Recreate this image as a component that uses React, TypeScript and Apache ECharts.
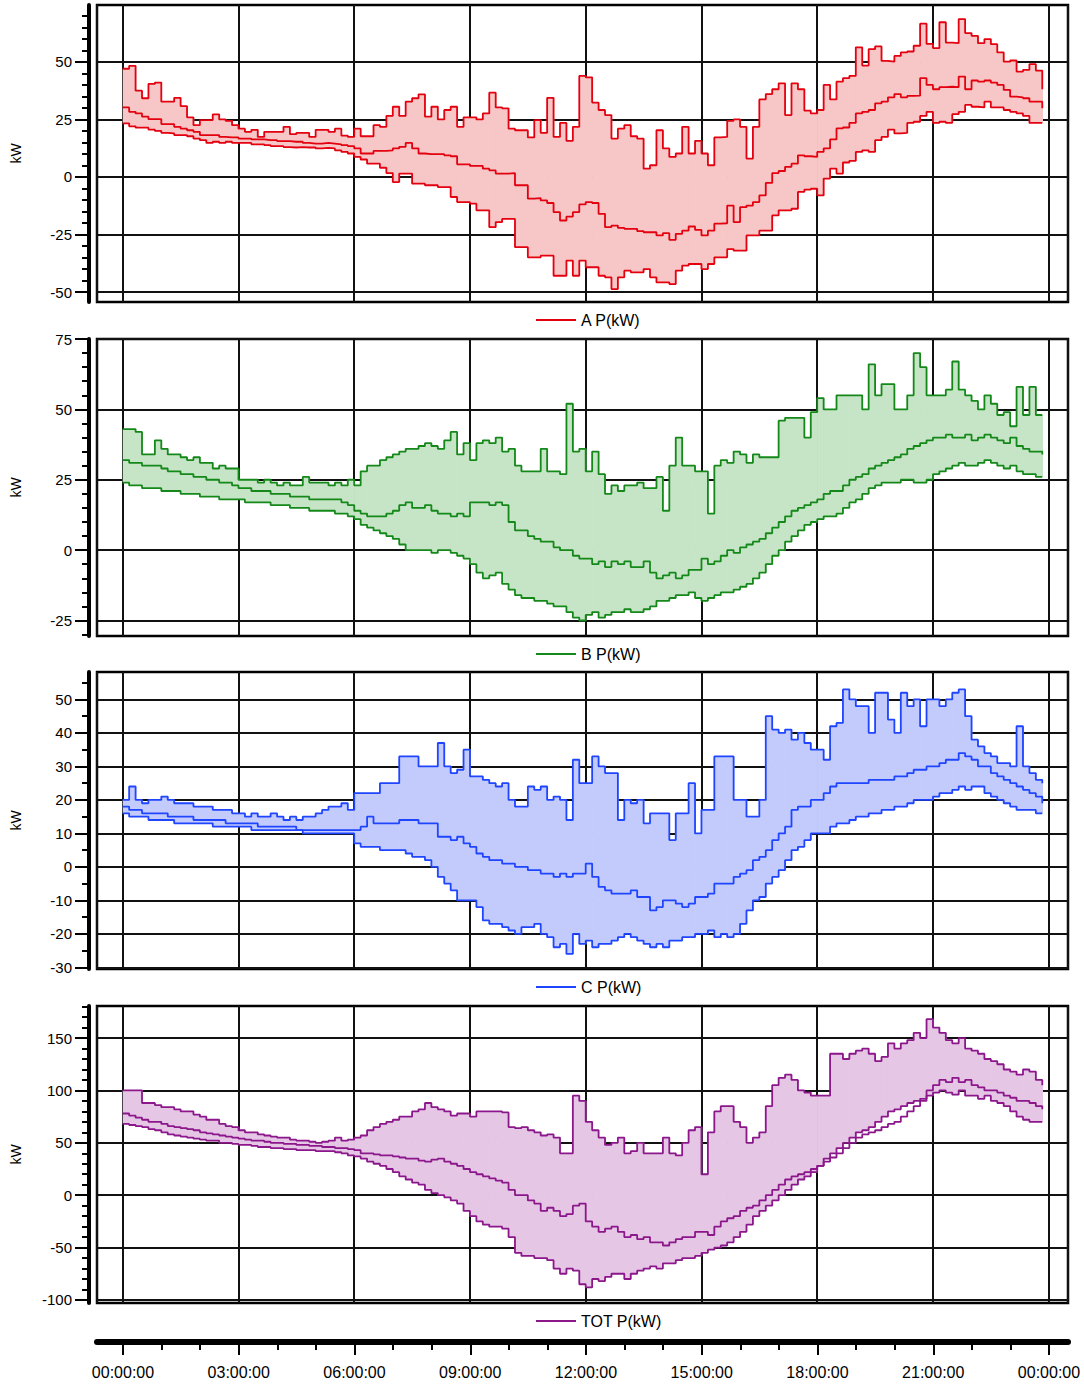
import React, { useEffect, useRef } from "react";
import * as echarts from "echarts";

// 10-minute steps, index i -> minute i*10
const STEP_MIN = 10;

const A_MAX = [47, 48.3, 37.5, 34.2, 40.4, 41, 32.7, 32.7, 34.4, 30.8,
  25.9, 22.5, 24.7, 24.7, 27.2, 25, 24.4, 22.5, 21, 19.6,
  20.5, 17.4, 19.6, 19.6, 19.6, 21.8, 18.6, 19.2, 19.2, 17.4,
  20.5, 20.5, 19.6, 21, 18, 17.4, 21, 17.7, 17.7, 22.5,
  21.8, 26.5, 30.5, 26.5, 32.7, 34.2, 35.9, 26.2, 30.5, 25,
  29.1, 30.5, 21.8, 25.9, 25.9, 25, 27.6, 36.6, 30.2, 29.8,
  21, 20.3, 20.3, 17.2, 24.7, 19.2, 34.4, 17.4, 23.5, 15.7,
  21.8, 43.9, 43.3, 32.3, 29.1, 26.9, 16.7, 21, 22.5, 17.7,
  16.7, 3.6, 5.1, 20.3, 12.4, 8.7, 10.2, 21.8, 10.2, 15.7,
  10.2, 5.1, 17.2, 17.4, 24.4, 25, 21.8, 8, 21.8, 33.7,
  36, 38.1, 40.7, 26.9, 40.7, 38.1, 28.8, 27.6, 29.1, 40,
  33.7, 41.4, 42.9, 43.9, 56.3, 48.4, 55.5, 56.7, 50.4, 50.1,
  52.6, 54.1, 54.5, 57, 66.6, 57.8, 56, 67.2, 58.4, 58.1,
  68.6, 62.5, 61.3, 58.1, 59.9, 57.7, 54.1, 50.1, 50.6, 45.8,
  46.5, 49, 46.2, 38.1];
const A_AVG = [30.2, 28.3, 27.6, 26.2, 25.1, 25.1, 23, 23, 21.8, 21,
  20.3, 19.6, 18.2, 18.2, 18.2, 17.4, 17.2, 17.2, 16.7, 16.7,
  16.3, 16.3, 16, 16, 15.6, 15.6, 15.3, 15.3, 14.8, 14.5,
  14.5, 14.8, 14.5, 14.2, 13.8, 13.4, 12.4, 10.2, 10.2, 11.3,
  11.3, 11.6, 12.4, 13.1, 14.8, 12.4, 10.2, 9.9, 9.9, 9.9,
  9.4, 9, 5.5, 5.5, 4.8, 4.8, 3.6, 2.9, 1.5, 1.5,
  1.7, -3.6, -3.6, -9.4, -9.2, -10.2, -11.3, -15.3, -18.9, -17.2,
  -15.3, -11.9, -10.9, -11.3, -16, -21.8, -21.1, -22.1, -22.5, -22.5,
  -23.5, -24, -24, -25.4, -24.4, -27.3, -24.7, -23.3, -21.5, -23,
  -25.4, -23.3, -20.3, -20.1, -12.4, -19.6, -13.1, -12.4, -10.9, -8,
  -2.6, 1.7, 2.6, 4.4, 5.8, 9.4, 9, 8.7, 10.9, 12.4,
  16.3, 21.1, 21.5, 23.5, 27.6, 28.3, 29.1, 32, 32.7, 34.6,
  36, 34.6, 35.2, 35.3, 42.9, 40, 38.1, 39, 39.2, 39,
  43.6, 38.1, 41.9, 41.4, 41.9, 41, 40, 37.8, 34.9, 34.6,
  34.2, 32.7, 32.7, 29.8];
const A_MIN = [23.3, 22, 21.4, 21.4, 20.6, 20, 19.2, 18.9, 18.2, 18.2,
  17.7, 16.7, 16, 14.8, 15.3, 14.8, 15.3, 14.8, 14.8, 14.8,
  14.2, 14.2, 13.8, 13.4, 13.4, 13, 12.8, 13, 12.8, 12.8,
  12.4, 12.6, 12.4, 11.6, 10.9, 10.2, 8.7, 7.6, 5.8, 5.8,
  4, 1.7, -2.2, 1.5, 1.5, -2.9, -2.9, -3.6, -3.6, -4.4,
  -4.4, -8.7, -10.9, -10.9, -11.6, -14.5, -14.5, -21.8, -19.6, -18.2,
  -18.2, -30.5, -30.5, -34.9, -34.9, -34.2, -34.2, -42.9, -42.9, -36.3,
  -42.9, -36.3, -39.2, -39.2, -42.9, -43.6, -48.7, -43.6, -40.7, -41.4,
  -41.4, -40, -43.6, -45.8, -45.8, -46.5, -40.7, -38.5, -37.8, -37.8,
  -40, -37.8, -34.9, -34.9, -31.3, -32, -32, -25.4, -25.4, -23.3,
  -23.3, -16.7, -14.5, -14.5, -13.8, -6.5, -5.5, -5.1, -8, -0.7,
  3.6, 1.5, 6.3, 7, 10.9, 11.6, 10.9, 16, 17.4, 20.6,
  18.9, 19.2, 23.5, 24, 26.5, 28.3, 23.5, 24, 23.5, 27.3,
  28.3, 31.3, 30.5, 30.2, 32.7, 30.2, 30.2, 29.1, 28.3, 27.6,
  26.5, 23.5, 23.5, 23.5];

const B_MAX = [43, 43, 42, 34, 34, 39, 36, 34, 34, 33,
  32, 33, 31, 31, 29, 30, 29, 29, 25, 25,
  25, 24, 25, 24, 23, 24, 23, 23, 26, 24,
  24, 24, 23, 24, 23, 25, 23, 28, 30, 30,
  32, 33, 34, 35, 36, 36, 37, 38, 37, 36,
  39, 42, 34, 38, 32, 38, 39, 38, 40, 35,
  36, 30, 28, 28, 28, 36, 28, 28, 27, 52,
  35, 36, 28, 35, 27, 20, 23, 21, 23, 23,
  24, 22, 22, 26, 14, 30, 40, 30, 30, 28,
  28, 13, 30, 32, 31, 35, 34, 31, 34, 33,
  33, 33, 46, 47, 47, 47, 40, 49, 54, 50,
  50, 55, 55, 55, 55, 50, 66, 55, 59, 59,
  50, 50, 55, 70, 65, 55, 55, 55, 57, 67,
  57, 55, 53, 50, 55, 52, 48, 49, 44, 58,
  48, 58, 48, 48];
const B_AVG = [32, 31, 31, 30, 30, 30, 29, 28, 28, 27,
  27, 26, 26, 25, 25, 24, 24, 23, 22, 22,
  21, 21, 21, 20, 20, 20, 19, 19, 19, 18,
  18, 18, 18, 18, 17, 16, 14, 13, 12, 12,
  12, 13, 14, 16, 17, 15, 15, 16, 14, 13,
  13, 12, 13, 12, 17, 17, 17, 16, 17, 16,
  10, 7, 7, 5, 4, 3, 3, 1, 0, 0,
  -2, -3, -3, -5, -4, -6, -4, -5, -4, -6,
  -6, -4, -8, -10, -9, -8, -10, -9, -7, -7,
  -3, -5, -4, -2, 0, -1, 1, 2, 3, 4,
  6, 8, 10, 12, 14, 15, 16, 17, 18, 20,
  21, 21, 23, 25, 26, 27, 29, 30, 31, 32,
  33, 34, 36, 37, 38, 39, 40, 40, 41, 40,
  40, 41, 39, 40, 41, 40, 39, 38, 40, 37,
  36, 35, 35, 34];
const B_MIN = [24, 23, 23, 22, 22, 22, 21, 21, 21, 20,
  20, 20, 19, 19, 19, 18, 18, 18, 18, 17,
  17, 17, 17, 16, 16, 16, 15, 15, 15, 14,
  14, 14, 14, 13, 13, 12, 11, 9, 8, 7,
  6, 5, 4, 2, 0, 0, 0, 0, -1, 0,
  0, -1, -2, -3, -5, -8, -10, -9, -8, -12,
  -14, -16, -17, -17, -18, -18, -19, -20, -20, -22,
  -24, -25, -23, -22, -24, -23, -22, -22, -21, -22,
  -22, -21, -20, -18, -18, -17, -16, -16, -15, -17,
  -18, -17, -16, -15, -15, -14, -13, -12, -10, -8,
  -5, -2, 0, 3, 5, 7, 9, 10, 11, 12,
  12, 13, 15, 17, 18, 20, 22, 23, 24, 24,
  24, 25, 25, 24, 24, 25, 27, 28, 29, 30,
  31, 30, 30, 31, 32, 31, 30, 29, 30, 28,
  27, 27, 26, 26];

const C_MAX = [20, 24, 20, 19, 20, 20, 21, 20, 19, 19,
  19, 18, 18, 18, 17, 17, 17, 16, 16, 15,
  16, 15, 15, 16, 15, 14, 15, 14, 15, 15,
  16, 17, 18, 18, 19, 17, 22, 22, 22, 22,
  25, 25, 25, 33, 33, 33, 30, 30, 30, 37,
  30, 28, 29, 35, 27, 27, 26, 25, 24, 25,
  20, 18, 18, 24, 23, 24, 20, 21, 20, 14,
  32, 25, 25, 33, 30, 28, 28, 14, 20, 19,
  20, 13, 16, 16, 16, 8, 16, 16, 25, 10,
  17, 17, 33, 33, 33, 20, 20, 15, 15, 20,
  45, 41, 40, 41, 38, 40, 37, 35, 35, 32,
  42, 43, 53, 50, 48, 48, 40, 52, 52, 44,
  40, 52, 48, 50, 42, 50, 50, 48, 50, 52,
  53, 45, 38, 36, 34, 33, 31, 31, 30, 42,
  30, 28, 26, 25];
const C_AVG = [18, 17, 17, 16, 16, 16, 16, 15, 15, 15,
  15, 14, 14, 14, 14, 14, 13, 13, 13, 13,
  13, 12, 12, 12, 12, 12, 12, 11, 11, 11,
  11, 11, 11, 11, 11, 11, 11, 12, 15, 13,
  13, 13, 13, 14, 14, 14, 13, 13, 13, 9,
  9, 8, 9, 7, 6, 4, 3, 2, 2, 1,
  1, 0, 0, -1, -1, -2, -2, -3, -2, -3,
  -2, -2, 1, -3, -6, -7, -8, -8, -8, -7,
  -9, -9, -13, -12, -10, -10, -11, -12, -11, -9,
  -9, -8, -5, -5, -5, -3, -2, -1, 2, 3,
  5, 8, 10, 12, 17, 18, 18, 20, 20, 22,
  24, 25, 25, 25, 25, 25, 26, 26, 26, 26,
  27, 27, 28, 29, 29, 30, 30, 31, 32, 32,
  34, 33, 32, 30, 30, 28, 27, 26, 25, 24,
  23, 22, 21, 19];
const C_MIN = [16, 15, 15, 15, 14, 14, 14, 14, 13, 13,
  13, 13, 13, 13, 12, 12, 12, 12, 12, 12,
  11, 11, 11, 11, 11, 11, 11, 11, 10, 10,
  10, 10, 10, 10, 10, 10, 7, 6, 6, 6,
  5, 5, 5, 5, 4, 3, 3, 2, 0, -3,
  -5, -7, -10, -10, -10, -12, -16, -17, -17, -18,
  -19, -20, -18, -18, -17, -20, -21, -24, -23, -26,
  -20, -23, -22, -24, -23, -23, -22, -21, -20, -21,
  -22, -23, -24, -23, -24, -22, -22, -21, -21, -20,
  -20, -19, -21, -20, -21, -20, -17, -13, -10, -9,
  -5, -3, -1, 2, 5, 6, 8, 10, 10, 10,
  12, 13, 13, 14, 15, 15, 16, 16, 17, 17,
  18, 18, 19, 20, 20, 20, 21, 22, 22, 23,
  24, 23, 24, 24, 22, 21, 20, 19, 18, 17,
  17, 17, 16, 16];

const T_MAX = [100, 100, 100, 88, 88, 86, 84, 84, 82, 80,
  80, 77, 75, 72, 72, 68, 66, 65, 62, 60,
  60, 58, 57, 56, 55, 55, 53, 52, 52, 51,
  50, 51, 52, 55, 52, 53, 55, 57, 62, 65,
  68, 70, 72, 75, 75, 80, 82, 88, 84, 82,
  80, 76, 78, 78, 75, 80, 80, 80, 80, 79,
  65, 64, 65, 62, 60, 57, 58, 55, 40, 40,
  95, 90, 70, 62, 55, 48, 50, 55, 40, 42,
  50, 40, 40, 40, 55, 40, 38, 50, 62, 65,
  20, 60, 80, 85, 85, 70, 65, 50, 55, 60,
  85, 105, 112, 115, 110, 100, 98, 95, 95, 95,
  135, 135, 130, 135, 138, 140, 135, 128, 132, 145,
  140, 145, 148, 155, 150, 168, 160, 155, 148, 145,
  150, 140, 138, 135, 130, 128, 125, 120, 118, 115,
  120, 118, 110, 105];
const T_AVG = [78, 76, 74, 72, 70, 70, 68, 66, 65, 64,
  63, 62, 60, 59, 58, 57, 56, 55, 54, 53,
  52, 52, 51, 50, 50, 49, 49, 48, 48, 47,
  47, 46, 46, 45, 45, 44, 43, 40, 40, 39,
  38, 38, 37, 36, 35, 35, 33, 32, 34, 35,
  32, 30, 28, 25, 22, 20, 18, 16, 14, 12,
  5, 0, 0, -5, -8, -15, -12, -15, -20, -18,
  -10, -8, -25, -30, -35, -32, -30, -35, -40, -38,
  -42, -40, -45, -45, -48, -45, -42, -40, -40, -35,
  -35, -38, -30, -25, -22, -20, -15, -12, -10, -5,
  0, 5, 10, 15, 18, 20, 22, 25, 28, 32,
  36, 40, 45, 50, 55, 58, 60, 62, 65, 68,
  70, 75, 80, 85, 90, 100, 105, 110, 108, 112,
  108, 110, 105, 103, 100, 100, 98, 95, 93, 90,
  90, 88, 85, 82];
const T_MIN = [68, 67, 66, 65, 63, 62, 60, 58, 57, 56,
  55, 54, 53, 52, 52, 50, 50, 49, 48, 48,
  47, 46, 46, 45, 45, 44, 44, 43, 43, 43,
  42, 42, 42, 41, 40, 38, 37, 35, 32, 30,
  28, 25, 22, 18, 15, 12, 10, 5, 2, 0,
  -2, -5, -8, -15, -20, -25, -28, -30, -30, -32,
  -40, -55, -58, -58, -60, -60, -62, -70, -75, -70,
  -72, -85, -88, -80, -82, -78, -75, -75, -80, -75,
  -72, -70, -68, -70, -65, -65, -62, -60, -60, -58,
  -55, -52, -50, -48, -45, -40, -35, -28, -20, -15,
  -10, -5, 0, 5, 10, 15, 18, 22, 28, 35,
  40, 45, 50, 55, 60, 62, 65, 70, 75, 80,
  82, 85, 88, 90, 92, 95, 98, 100, 98, 96,
  100, 95, 95, 92, 95, 90, 88, 85, 80, 75,
  72, 70, 70, 70];

const A_TICKS = [-50, -25, 0, 25, 50];
const B_TICKS = [-25, 0, 25, 50, 75];
const C_TICKS = [-30, -20, -10, 0, 10, 20, 30, 40, 50];
const T_TICKS = [-100, -50, 0, 50, 100, 150];
const TIME_TICKS = ["00:00:00", "03:00:00", "06:00:00", "09:00:00", "12:00:00", "15:00:00", "18:00:00", "21:00:00", "00:00:00"];

const FONT = "'Liberation Sans', Arial, sans-serif";

const PANELS = [
  { name: "A P(kW)", max: A_MAX, avg: A_AVG, min: A_MIN, color: "#e3000f", fill: "#f7c6c7", yMin: -54.3, yMax: 74.7, major: 25, minor: 5, ticks: A_TICKS, top: 5 },
  { name: "B P(kW)", max: B_MAX, avg: B_AVG, min: B_MIN, color: "#15881a", fill: "#c6e4c6", yMin: -30.5, yMax: 75, major: 25, minor: 5, ticks: B_TICKS, top: 339 },
  { name: "C P(kW)", max: C_MAX, avg: C_AVG, min: C_MIN, color: "#1f45ff", fill: "#c3cbfd", yMin: -30.5, yMax: 58.2, major: 10, minor: 5, ticks: C_TICKS, top: 672 },
  { name: "TOT P(kW)", max: T_MAX, avg: T_AVG, min: T_MIN, color: "#8b178b", fill: "#e5c6e5", yMin: -102.9, yMax: 180.6, major: 50, minor: 10, ticks: T_TICKS, top: 1006 },
];

const PANEL_H = 297;

function minorValues(lo: number, hi: number, step: number) {
  const out: number[] = [];
  for (let v = Math.ceil(lo / step) * step; v <= hi + 1e-9; v += step) out.push(v);
  return out;
}

export default function App() {
  const ref = useRef<HTMLDivElement>(null);
  useEffect(() => {
    const chart = echarts.init(ref.current!, null, { renderer: "svg" });
    const grid: any[] = [];
    const xAxis: any[] = [];
    const yAxis: any[] = [];
    const series: any[] = [];
    const legend: any[] = [];

    PANELS.forEach((p, k) => {
      grid.push({ left: 97, width: 971, top: p.top, height: PANEL_H, show: true, borderColor: "#000", borderWidth: 2.5, backgroundColor: "transparent" });
      xAxis.push({
        type: "value", gridIndex: k, min: -40, max: 1470, minInterval: 180, maxInterval: 180,
        axisLine: { show: false, onZero: false }, axisTick: { show: false }, axisLabel: { show: false },
        splitLine: { show: true, lineStyle: { color: "#111", width: 2 } },
      });
      const yMajor = 2 * k;
      yAxis.push({
        type: "value", gridIndex: k, min: p.yMin, max: p.yMax, minInterval: p.major, maxInterval: p.major,
        position: "left", offset: 8,
        name: "kW", nameLocation: "middle", nameGap: 66, nameRotate: 90,
        nameTextStyle: { fontSize: 14, color: "#000", fontFamily: FONT },
        axisLine: { show: true, onZero: false, lineStyle: { color: "#000", width: 4, cap: "round" } },
        axisTick: { show: true, length: 14, customValues: p.ticks, lineStyle: { color: "#000", width: 2 } },
        axisLabel: { show: true, margin: 17, fontSize: 15, color: "#000", fontFamily: FONT, customValues: p.ticks, showMinLabel: true, showMaxLabel: true },
        splitLine: { show: true, lineStyle: { color: "#111", width: 2 } },
      });
      yAxis.push({
        type: "value", gridIndex: k, min: p.yMin, max: p.yMax, minInterval: p.minor, maxInterval: p.minor,
        position: "left", offset: 8,
        axisLine: { show: false, onZero: false },
        axisTick: { show: true, length: 7, customValues: minorValues(p.yMin, p.yMax, p.minor), lineStyle: { color: "#000", width: 2 } },
        axisLabel: { show: false }, splitLine: { show: false },
      });
      const xy = (arr: number[]) => arr.map((v, i) => [i * STEP_MIN, v]);
      const n = p.min.length;
      const fill = p.fill;
      series.push({
        type: "custom", name: "_band" + k, xAxisIndex: k, yAxisIndex: yMajor, silent: true, z: 1,
        data: p.min.map((v, i) => [i * STEP_MIN, v, p.max[i]]),
        encode: { x: 0, y: [1, 2] },
        renderItem: (params: any, api: any) => {
          const i = params.dataIndex;
          if (i >= n - 1) return null;
          const t = api.value(0);
          const lo = api.value(1);
          const hi = api.value(2);
          const a = api.coord([t, hi]);
          const b = api.coord([t + STEP_MIN, lo]);
          return {
            type: "rect",
            shape: { x: a[0], y: a[1], width: b[0] - a[0] + 0.7, height: b[1] - a[1] },
            style: { fill },
          };
        },
      });
      [p.max, p.avg, p.min].forEach((arr) => {
        series.push({
          type: "line", name: p.name, xAxisIndex: k, yAxisIndex: yMajor, data: xy(arr),
          step: "end", symbol: "none", showSymbol: false,
          lineStyle: { color: p.color, width: 1.8 }, itemStyle: { color: p.color }, z: 3,
        });
      });
      legend.push({
        data: [p.name], left: 531, top: p.top + PANEL_H + 5, icon: "rect", itemWidth: 40, itemHeight: 2,
        selectedMode: false, textStyle: { fontSize: 16, color: "#000", fontFamily: FONT },
      });
    });

    // shared time axis at the bottom
    grid.push({ left: 123, width: 926, top: 1341, height: 1, show: false });
    xAxis.push({
      type: "value", gridIndex: 4, min: 0, max: 1440, interval: 180, position: "bottom",
      axisLine: { show: false, onZero: false },
      axisTick: { show: true, length: 13, lineStyle: { color: "#000", width: 2 } },
      minorTick: { show: true, splitNumber: 3, length: 8, lineStyle: { color: "#000", width: 2 } },
      axisLabel: {
        show: true, margin: 22, fontSize: 16, color: "#000", fontFamily: FONT,
        formatter: (v: number) => TIME_TICKS[Math.round(v / 180)] ?? "",
      },
      splitLine: { show: false },
    });
    yAxis.push({ type: "value", gridIndex: 4, show: false, min: 0, max: 1 });

    chart.setOption({
      animation: false,
      textStyle: { fontFamily: FONT },
      grid, xAxis, yAxis, series, legend,
      graphic: [
        { type: "line", shape: { x1: 97, y1: 1342, x2: 1068, y2: 1342 }, style: { stroke: "#000", lineWidth: 6, lineCap: "round" } },
      ],
    });
    return () => chart.dispose();
  }, []);
  return <div ref={ref} style={{ position: "absolute", left: 0, top: 0, width: 1084, height: 1385, background: "#fff" }} />;
}
